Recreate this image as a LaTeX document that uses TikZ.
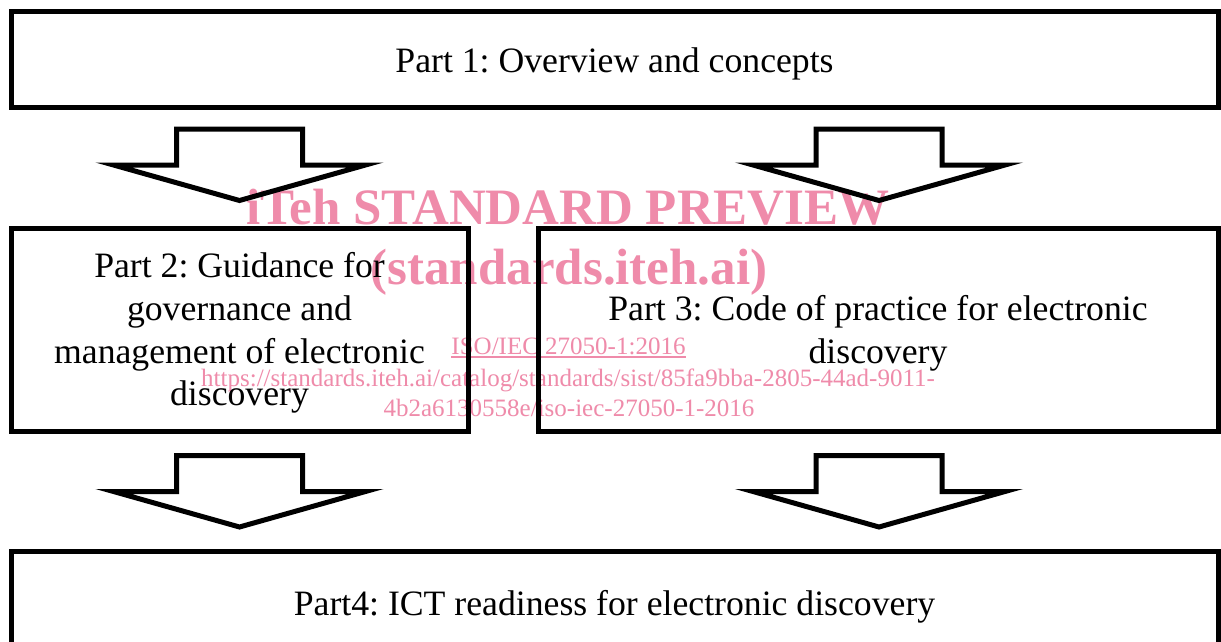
\documentclass[tikz,border=0pt]{standalone}
\usepackage{fontspec}
\setmainfont{Liberation Serif}
\frenchspacing
\definecolor{wmpink}{RGB}{239,139,170}
\begin{document}
\begin{tikzpicture}[x=1pt,y=-1pt,
  boxst/.style={draw=black, line width=5pt, inner sep=0pt},
  txt/.style={inner sep=0pt, align=center, font=\fontsize{35.7pt}{42.7pt}\selectfont},
  arrowst/.style={draw=black, line width=5pt, fill=white},
  wmbig/.style={inner sep=0pt, anchor=base, text=wmpink, font=\fontsize{51pt}{55pt}\selectfont\bfseries},
  wmsmall/.style={inner sep=0pt, anchor=base, text=wmpink, font=\fontsize{25pt}{28pt}\selectfont},
  blockarrow/.pic={\draw[arrowst] (-63,0) -- (63,0) -- (63,36) -- (126,36) -- (0,71.5) -- (-126,36) -- (-63,36) -- cycle;}
]
\useasboundingbox (0,0) rectangle (1221,642);
\clip (0,0) rectangle (1221,642);
\fill[white] (0,0) rectangle (1221,642);

% boxes
\node[boxst, minimum width=1207pt, minimum height=95pt] (p1) at (614.5,59.5) {};
\node[boxst, minimum width=457pt, minimum height=203pt] (p2) at (239.5,329.5) {};
\node[boxst, minimum width=680pt, minimum height=203pt] (p3) at (878,329.5) {};
\node[boxst, minimum width=1207pt, minimum height=110pt] (p4) at (614.5,606) {};

% texts
\node[txt] (t1) at ([yshift=-4pt]p1.center) {Part 1: Overview and concepts};
\node[txt] (t2) at ([yshift=-3.5pt]p2.center) {Part 2: Guidance for\\governance and\\management of electronic\\discovery};
\node[txt] (t3) at ([yshift=-3.8pt]p3.center) {Part 3: Code of practice for electronic\\discovery};
\node[txt] (t4) at (614.5,606.5) {Part4: ICT readiness for electronic discovery};

% block arrows
\pic at (239.5,129) {blockarrow};
\pic at (879,129) {blockarrow};
\pic at (239.5,455.5) {blockarrow};
\pic at (879,455.5) {blockarrow};

% watermark
\begin{scope}[blend mode=multiply]
\node[wmbig] (w1) at (568,224) {iTeh STANDARD PREVIEW};
\node[wmbig] (w2) at (569,284) {(standards.iteh.ai)};
\node[wmsmall] (w3) at (568.5,354) {ISO/IEC 27050-1:2016};
\draw[wmpink, line width=1.4pt] ([yshift=-3pt]w3.base west) -- ([yshift=-3pt]w3.base east);
\node[wmsmall] (w4) at (568,386) {https://standards.iteh.ai/catalog/standards/sist/85fa9bba-2805-44ad-9011-};
\node[wmsmall] (w5) at (569,416) {4b2a6130558e/iso-iec-27050-1-2016};
\end{scope}
\end{tikzpicture}
\end{document}
